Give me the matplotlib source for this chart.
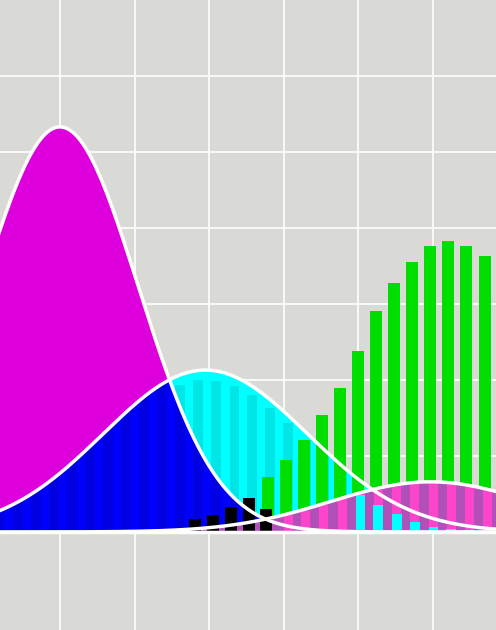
import numpy as np
import matplotlib
matplotlib.use("Agg")
from matplotlib import pyplot as plt

# density curves: (center, sd, peak height)
curve_a = (1.00, 1.05, 5.33)
curve_b = (2.95, 1.37, 2.13)
curve_c = (5.97, 1.34, 0.66)

# histogram bars
cyan_x = [0.19, 0.44, 0.68, 0.92, 1.16, 1.40, 1.64, 1.89, 2.13, 2.37, 2.61, 2.85,
          3.09, 3.34, 3.58, 3.82, 4.06, 4.30, 4.54, 4.79, 5.03, 5.27, 5.52, 5.76,
          6.01, 6.25, 6.49]
cyan_h = [0.26, 0.37, 0.50, 0.66, 0.85, 1.05, 1.27, 1.48, 1.67, 1.83, 1.94, 2.00,
          1.98, 1.92, 1.80, 1.63, 1.43, 1.21, 1.00, 0.80, 0.49, 0.36, 0.24, 0.13,
          0.07, 0.04, 0.03]
green_x = [3.79, 4.03, 4.27, 4.52, 4.76, 5.00, 5.24, 5.48, 5.72, 5.97, 6.21, 6.45, 6.70]
green_h = [0.72, 0.95, 1.21, 1.54, 1.89, 2.38, 2.91, 3.28, 3.55, 3.76, 3.83, 3.76, 3.63]
pink_x = [4.06, 4.30, 4.54, 4.79, 5.03, 5.27, 5.52, 5.76, 6.01, 6.25, 6.49, 6.73]
pink_h = [0.22, 0.28, 0.35, 0.43, 0.50, 0.55, 0.60, 0.63, 0.64, 0.63, 0.59, 0.55]
black_x = [2.81, 3.05, 3.29, 3.53, 3.77]
black_h = [0.17, 0.22, 0.33, 0.45, 0.30]


def density(x, p):
    c, s, h = p
    return h * np.exp(-(x - c) ** 2 / (2 * s ** 2))


fig = plt.figure(figsize=(4.96, 6.3), dpi=100)
ax = fig.add_axes([0, 0, 1, 1])
ax.set_facecolor('#d9d9d5')
ax.set_xlim(0.195, 6.85)
ax.set_ylim(-1.29, 7.0)
ax.set_xticks([1, 2, 3, 4, 5, 6])
ax.set_yticks([0, 1, 2, 3, 4, 5, 6])
ax.grid(True, color='white', linewidth=1.2)
ax.set_axisbelow(True)
for s in ax.spines.values():
    s.set_visible(False)
ax.tick_params(length=0, labelbottom=False, labelleft=False)

x = np.linspace(0.1, 7.0, 600)
ya, yb, yc = density(x, curve_a), density(x, curve_b), density(x, curve_c)

ax.fill_between(x, 0, yb, color='#00ffff', zorder=2)
cb = ax.bar(cyan_x, cyan_h, width=0.13, color='#00e6e6', zorder=2.5)
ax.fill_between(x, 0, ya, color='#dd00dd', zorder=3)
overlap = ax.fill_between(x, 0, np.minimum(ya, yb), color='#0000ff', zorder=3.2)
clip = overlap.get_paths()[0]
blue = ax.bar(cyan_x, [3] * len(cyan_x), width=0.13, color='#0000e0', zorder=3.3)
for r in blue:
    r.set_clip_path(clip, ax.transData)
ax.bar(green_x, green_h, width=0.16, color='#00dd00', zorder=4)
ax.fill_between(x, 0, yc, color='#b050b8', zorder=5)
ax.bar(pink_x, [min(h, density(px, curve_c)) for px, h in zip(pink_x, pink_h)],
       width=0.12, color='#ff44cc', zorder=5.2)
ax.bar(cyan_x[20:], cyan_h[20:], width=0.13, color='#00ffff', zorder=5.3)
ax.bar(black_x, black_h, width=0.16, color='black', zorder=5.5)

for y in (ya, yb, yc):
    ax.plot(x, y, color='white', linewidth=2.5, zorder=6)
ax.axhline(0, color='white', linewidth=2.5, zorder=6)

fig.savefig('out.png', dpi=100)
